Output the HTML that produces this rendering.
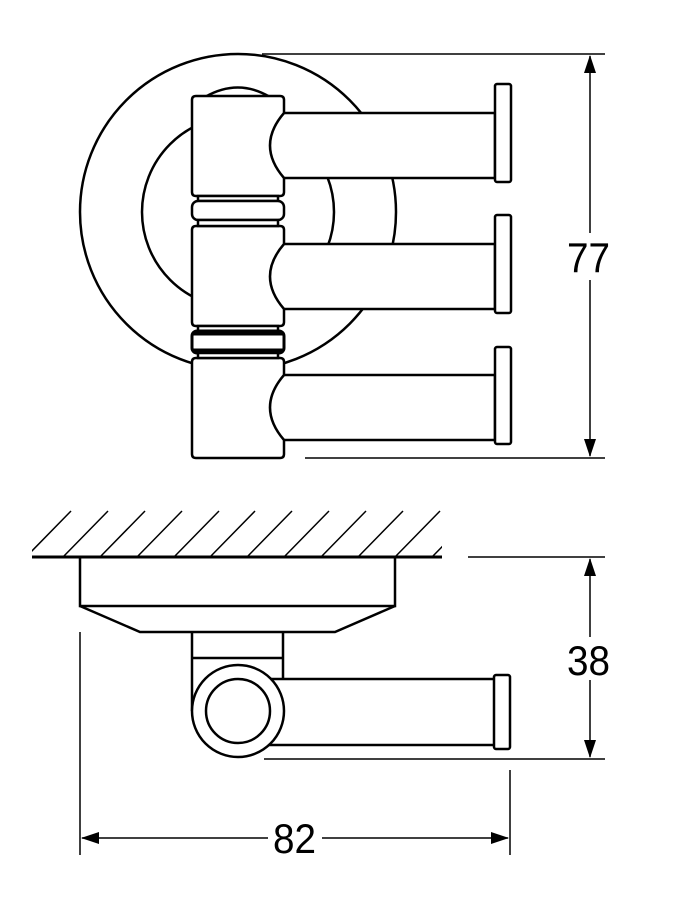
<!DOCTYPE html>
<html><head><meta charset="utf-8"><style>
html,body{margin:0;padding:0;background:#fff;}
svg{display:block;}
text{font-family:"Liberation Sans Narrow","Liberation Sans",sans-serif;font-size:42px;fill:#000;}
</style></head><body>
<svg width="676" height="900" viewBox="0 0 676 900" xmlns="http://www.w3.org/2000/svg">
<defs><clipPath id="hc"><rect x="32" y="508" width="410" height="50"/></clipPath></defs>
<g fill="none" stroke="#000" stroke-width="2.5">
  <!-- top view circles -->
  <circle cx="238" cy="212" r="158"/>
  <circle cx="238" cy="212" r="96"/>
  <!-- arms -->
  <g fill="#fff">
    <rect x="262" y="113" width="233" height="65"/>
    <rect x="262" y="244" width="233" height="65"/>
    <rect x="262" y="375" width="233" height="65"/>
    <rect x="495" y="84" width="16" height="98" rx="2"/>
    <rect x="495" y="215" width="16" height="98" rx="2"/>
    <rect x="495" y="347" width="16" height="97" rx="2"/>
    <!-- top cap arc -->
    <path d="M205,97 Q238,78 270,97"/>
    <!-- blocks -->
    <path d="M196,96 H280 Q284,96 284,100 V113 Q256,145.5 284,178 V192 Q284,196 280,196 H196 Q192,196 192,192 V100 Q192,96 196,96 Z"/>
    <path d="M196,226 H280 Q284,226 284,230 V244 Q256,276.5 284,309 V322 Q284,326 280,326 H196 Q192,326 192,322 V230 Q192,226 196,226 Z"/>
    <path d="M196,358 H280 Q284,358 284,362 V375 Q256,407.5 284,440 V454 Q284,458 280,458 H196 Q192,458 192,454 V362 Q192,358 196,358 Z"/>
    <!-- rings -->
    <rect x="198" y="196" width="80" height="5"/>
    <rect x="192" y="201" width="92" height="19" rx="6"/>
    <rect x="198" y="220" width="80" height="6"/>
    <rect x="198" y="326" width="80" height="5"/>
    <rect x="192" y="331" width="92" height="22" rx="5" stroke-width="3"/>
    <rect x="198" y="353" width="80" height="5"/>
  </g>
  <line x1="193" y1="334" x2="283" y2="334" stroke-width="3"/>
  <line x1="193" y1="350" x2="283" y2="350" stroke-width="3"/>
</g>
<g stroke="#000" stroke-width="1.5" fill="none">
  <line x1="262" y1="54" x2="605" y2="54"/>
  <line x1="305" y1="458" x2="605" y2="458"/>
  <line x1="590" y1="56" x2="590" y2="233"/>
  <line x1="590" y1="280" x2="590" y2="456"/>
</g>
<polygon points="590,55 584,73 596,73" fill="#000"/>
<polygon points="590,457 584,439 596,439" fill="#000"/>
<text x="567" y="272" textLength="43" lengthAdjust="spacingAndGlyphs">77</text>

<!-- bottom view -->
<g stroke="#000" stroke-width="1.5" clip-path="url(#hc)">
  <line x1="26" y1="557" x2="71" y2="511"/>
  <line x1="63" y1="557" x2="108" y2="511"/>
  <line x1="100" y1="557" x2="145" y2="511"/>
  <line x1="137" y1="557" x2="182" y2="511"/>
  <line x1="174" y1="557" x2="219" y2="511"/>
  <line x1="210" y1="557" x2="255" y2="511"/>
  <line x1="247" y1="557" x2="292" y2="511"/>
  <line x1="284" y1="557" x2="329" y2="511"/>
  <line x1="321" y1="557" x2="366" y2="511"/>
  <line x1="358" y1="557" x2="403" y2="511"/>
  <line x1="395" y1="557" x2="440" y2="511"/>
  <line x1="432" y1="557" x2="477" y2="511"/>
</g>
<g fill="none" stroke="#000" stroke-width="2.5">
  <line x1="32" y1="557" x2="442" y2="557" stroke-width="3"/>
  <rect x="80" y="557" width="315" height="49"/>
  <path d="M80,606 L140,632 H335 L395,606"/>
  <path d="M192,632 V711 M283,632 V679 M192,658 H283"/>
  <rect x="262" y="679" width="233" height="66" fill="#fff"/>
  <rect x="494" y="675" width="16" height="74" rx="2" fill="#fff"/>
  <circle cx="238" cy="711" r="46" fill="#fff"/>
  <circle cx="238" cy="711" r="32"/>
</g>
<g stroke="#000" stroke-width="1.5" fill="none">
  <line x1="468" y1="557" x2="605" y2="557"/>
  <line x1="264" y1="759" x2="605" y2="759"/>
  <line x1="590" y1="559" x2="590" y2="637"/>
  <line x1="590" y1="680" x2="590" y2="757"/>
  <line x1="80" y1="632" x2="80" y2="855"/>
  <line x1="510" y1="770" x2="510" y2="855"/>
  <line x1="82" y1="838" x2="268" y2="838"/>
  <line x1="322" y1="838" x2="508" y2="838"/>
</g>
<polygon points="590,558 584,576 596,576" fill="#000"/>
<polygon points="590,758 584,740 596,740" fill="#000"/>
<polygon points="81,838 99,832 99,844" fill="#000"/>
<polygon points="509,838 491,832 491,844" fill="#000"/>
<text x="567" y="675" textLength="43" lengthAdjust="spacingAndGlyphs">38</text>
<text x="273" y="853" textLength="43" lengthAdjust="spacingAndGlyphs">82</text>
</svg>
</body></html>
